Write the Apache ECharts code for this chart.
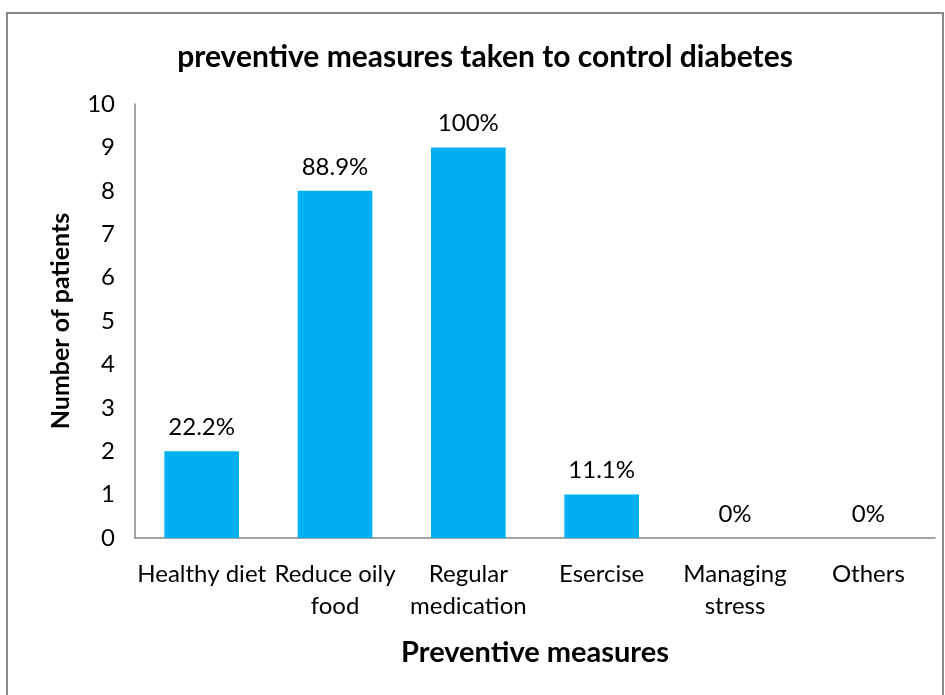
<!DOCTYPE html>
<html>
<head>
<meta charset="utf-8">
<script src="https://cdn.jsdelivr.net/npm/echarts@6/dist/echarts.min.js"></script>
<style>
  html, body { margin: 0; padding: 0; background: #fff; }
  #wrap { position: relative; width: 945px; height: 695px; overflow: hidden; }
  #frame { position: absolute; left: 6px; top: 12px; width: 938px; height: 700px; border: 2px solid #888; box-sizing: border-box; }
  #chart { position: absolute; left: 0; top: 0; width: 945px; height: 695px; }
</style>
</head>
<body>
<div id="wrap">
  <div id="frame"></div>
  <div id="chart"></div>
</div>
<script>
// chart data
const categories = ["Healthy diet", "Reduce oily\nfood", "Regular\nmedication", "Esercise", "Managing\nstress", "Others"];
const patients = [2, 8, 9, 1, 0, 0];
const percentLabels = ["22.2%", "88.9%", "100%", "11.1%", "0%", "0%"];

const FONT = "Lato, 'Open Sans', sans-serif";
const chart = echarts.init(document.getElementById("chart"));

chart.setOption({
  animation: false,
  title: {
    text: "preventive measures taken to control diabetes",
    left: 480,
    textAlign: "center",
    top: 37,
    textStyle: { fontFamily: FONT, fontSize: 30, fontWeight: "bold", color: "#000" },
  },
  grid: { left: 135, right: 10, top: 104, bottom: 157 },
  xAxis: {
    type: "category",
    data: categories,
    name: "Preventive measures",
    nameLocation: "middle",
    nameGap: 100,
    nameTextStyle: { fontFamily: FONT, fontSize: 29, fontWeight: "bold", color: "#000" },
    axisLine: { lineStyle: { color: "#868686", width: 1.5 } },
    axisTick: { show: false },
    axisLabel: {
      interval: 0,
      margin: 20,
      fontFamily: FONT,
      fontSize: 24,
      lineHeight: 32,
      color: "#000",
    },
  },
  yAxis: {
    type: "value",
    min: 0,
    max: 10,
    interval: 1,
    name: "Number of patients",
    nameLocation: "middle",
    nameGap: 62,
    nameTextStyle: { fontFamily: FONT, fontSize: 25, fontWeight: "bold", color: "#000" },
    axisLine: { show: true, lineStyle: { color: "#868686", width: 1.5 } },
    axisTick: { show: false },
    splitLine: { show: false },
    axisLabel: { margin: 20, fontFamily: FONT, fontSize: 24, color: "#000" },
  },
  series: [
    {
      type: "bar",
      data: patients,
      barWidth: "56%",
      itemStyle: { color: "#00B0F0" },
      label: {
        show: true,
        position: "top",
        distance: 12,
        fontFamily: FONT,
        fontSize: 24,
        color: "#000",
        formatter: (p) => percentLabels[p.dataIndex],
      },
    },
  ],
});
</script>
</body>
</html>
